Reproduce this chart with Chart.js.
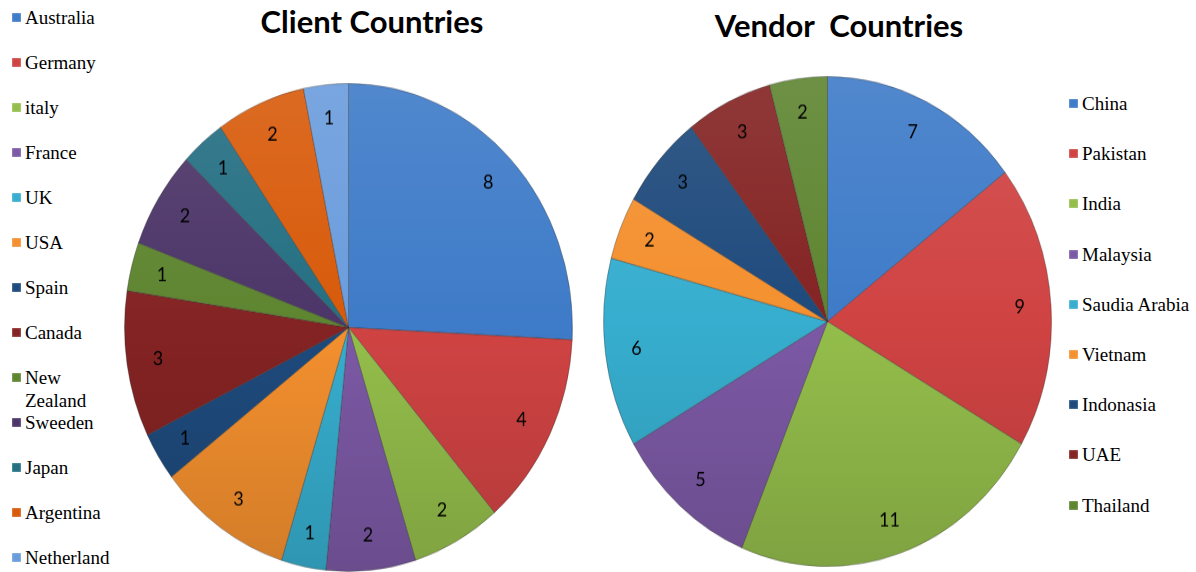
<!DOCTYPE html>
<html>
<head>
<meta charset="utf-8">
<script src="https://cdn.jsdelivr.net/npm/chart.js@4.4.0/dist/chart.umd.min.js"></script>
<style>
    html, body { margin: 0; padding: 0; background: #fff; }
    body { width: 1196px; height: 572px; position: relative; overflow: hidden; }
    .pie { position: absolute; }
    .title { position: absolute; font-family: Lato, "Liberation Sans", sans-serif; font-weight: bold; font-size: 31px; color: #000; white-space: pre; transform: translateX(-50%); }
    .legend-item { position: absolute; font-family: "Liberation Serif", "DejaVu Serif", "Times New Roman", Times, serif; font-size: 19px; line-height: 23px; color: #000; }
    .legend-item .box { position: absolute; left: -13px; top: 7px; width: 9px; height: 9px; box-shadow: inset 0 0 2px rgba(255,255,255,0.6); }
</style>
</head>
<body>
<div class="title" style="left:372px; top:2px;">Client Countries</div>
<div class="title" style="left:839px; top:6px;">Vendor  Countries</div>
<div id="clientLegend"></div>
<div id="vendorLegend"></div>
<canvas id="clientChart" class="pie" width="449" height="449" style="left:124px; top:83px; width:449px; height:489px;"></canvas>
<canvas id="vendorChart" class="pie" width="449" height="449" style="left:603px; top:76px; width:449px; height:491px;"></canvas>
<script>
// Client Countries
const clientCountries = ['Australia', 'Germany', 'italy', 'France', 'UK', 'USA', 'Spain', 'Canada', 'New Zealand', 'Sweeden', 'Japan', 'Argentina', 'Netherland'];
const clientValues = [8, 4, 2, 2, 1, 3, 1, 3, 1, 2, 1, 2, 1];

// Vendor Countries
const vendorCountries = ['China', 'Pakistan', 'India', 'Malaysia', 'Saudia Arabia', 'Vietnam', 'Indonasia', 'UAE', 'Thailand'];
const vendorValues = [7, 9, 11, 5, 6, 2, 3, 3, 2];

// cores (paleta do Office)
const clientColors = ['#3E7BC8', '#D04343', '#94BE4B', '#7C59A5', '#37AECF', '#F4902F', '#1E4A7C', '#842323', '#5E8530', '#4C3568', '#246F82', '#D85A0A', '#6A9CDC'];
const vendorColors = ['#3E7BC8', '#D04343', '#94BE4B', '#7C59A5', '#37AECF', '#F4902F', '#1E4A7C', '#842323', '#5E8530'];

function mix(hex, target, t) {
    const a = parseInt(hex.slice(1), 16), b = parseInt(target.slice(1), 16);
    const ch = (v, s) => (v >> s) & 255;
    const r = Math.round(ch(a, 16) + (ch(b, 16) - ch(a, 16)) * t);
    const g = Math.round(ch(a, 8) + (ch(b, 8) - ch(a, 8)) * t);
    const bl = Math.round(ch(a, 0) + (ch(b, 0) - ch(a, 0)) * t);
    return `rgb(${r},${g},${bl})`;
}

// gradiente vertical para imitar o efeito 3D do Excel
function shaded(colors) {
    return (context) => {
        const chart = context.chart;
        const area = chart.chartArea;
        const base = colors[context.dataIndex];
        if (!area) return base;
        const g = chart.ctx.createLinearGradient(0, area.top, 0, area.bottom);
        g.addColorStop(0, mix(base, '#ffffff', 0.1));
        g.addColorStop(0.5, base);
        g.addColorStop(1, mix(base, '#000000', 0.14));
        return g;
    };
}

// rótulos de valor dentro das fatias
const valueLabels = {
    id: 'valueLabels',
    afterDatasetsDraw(chart, args, opts) {
        const ctx = chart.ctx;
        const meta = chart.getDatasetMeta(0);
        ctx.save();
        ctx.font = '18px Lato, "Open Sans", sans-serif';
        ctx.fillStyle = '#000';
        ctx.textAlign = 'center';
        ctx.textBaseline = 'middle';
        meta.data.forEach((arc, i) => {
            const p = arc.getProps(['x', 'y', 'startAngle', 'endAngle', 'outerRadius']);
            const mid = (p.startAngle + p.endAngle) / 2;
            const r = p.outerRadius * opts.radiusFactor;
            ctx.save();
            ctx.translate(p.x + Math.cos(mid) * r, p.y + Math.sin(mid) * r);
            ctx.scale(1, 1 / opts.stretch);
            ctx.fillText(chart.data.datasets[0].data[i], 0, 0);
            ctx.restore();
        });
        ctx.restore();
    }
};

function makePie(id, labels, values, colors, stretch) {
    const ctx = document.getElementById(id).getContext('2d');
    return new Chart(ctx, {
        type: 'pie',
        data: {
            labels: labels,
            datasets: [{
                data: values,
                backgroundColor: shaded(colors),
                borderColor: 'rgba(40, 40, 40, 0.35)',
                borderWidth: 1
            }]
        },
        options: {
            responsive: false,
            animation: false,
            events: [],
            layout: { padding: 0 },
            plugins: {
                legend: { display: false },
                tooltip: { enabled: false },
                valueLabels: { radiusFactor: 0.86, stretch: stretch }
            }
        },
        plugins: [valueLabels]
    });
}

function makeLegend(id, labels, colors, left, top, step, width) {
    const box = document.getElementById(id);
    labels.forEach((name, i) => {
        const item = document.createElement('div');
        item.className = 'legend-item';
        item.style.left = left + 'px';
        item.style.top = (top + step * i) + 'px';
        item.style.width = width + 'px';
        item.innerHTML = `<span class="box" style="background:${colors[i]}"></span>${name}`;
        box.appendChild(item);
    });
}

makePie('clientChart', clientCountries, clientValues, clientColors, 489 / 449);
makePie('vendorChart', vendorCountries, vendorValues, vendorColors, 491 / 449);
makeLegend('clientLegend', clientCountries, clientColors, 25, 6, 45, 90);
makeLegend('vendorLegend', vendorCountries, vendorColors, 1082, 92, 50.2, 114);
</script>
</body>
</html>
